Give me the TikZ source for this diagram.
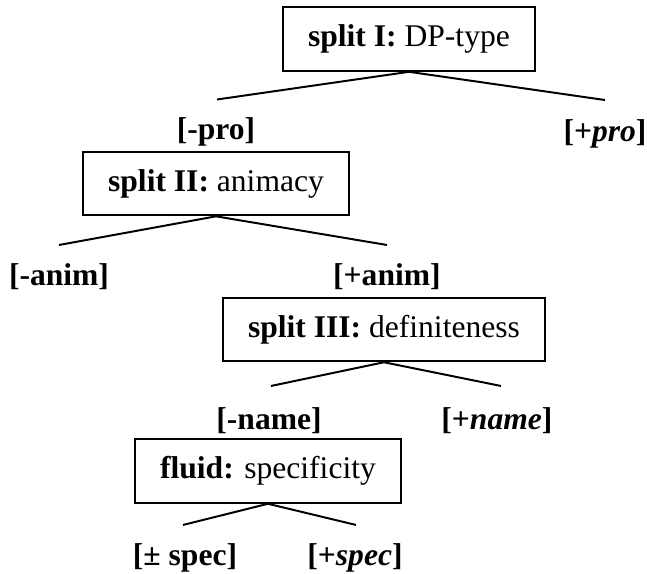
\documentclass[tikz,border=0pt]{standalone}
\usepackage{fontspec}
\setmainfont{Liberation Serif}

\begin{document}
\begin{tikzpicture}[every node/.style={font=\fontsize{12}{14}\selectfont},
        splitbox/.style={draw, line width=0.75pt, minimum height=0.85cm, inner xsep=9.5pt},
        feat/.style={font=\fontsize{12}{14}\selectfont\bfseries, inner sep=0pt},
        branch/.style={line width=0.75pt}]
        \useasboundingbox (0,0) rectangle (8.641,-7.666);

        % split boxes
        \node[splitbox] (DPT) at (5.462,-0.521) {\textbf{split I:} DP-type};
        \node[splitbox] (ANIM) at (2.885,-2.451) {\textbf{split II:} animacy};
        \node[splitbox] (DEF) at (5.128,-4.400) {\textbf{split III:} definiteness};
        \node[splitbox] (SPEC) at (3.579,-6.290) {\textbf{fluid:} specificity};

        % branch ends
        \coordinate (DPTl) at (2.898,-1.329);
        \coordinate (DPTr) at (8.080,-1.336);
        \coordinate (ANIMl) at (0.788,-3.272);
        \coordinate (ANIMr) at (5.168,-3.272);
        \coordinate (DEFl) at (3.619,-5.155);
        \coordinate (DEFr) at (6.691,-5.155);
        \coordinate (SPECl) at (2.444,-7.011);
        \coordinate (SPECr) at (4.754,-7.011);

        % features
        \node[feat] (mpro) at (2.885,-1.763) {[-pro]};
        \node[feat] (ppro) at (8.080,-1.790) {[+\textit{pro}]};
        \node[feat] (manim) at (0.788,-3.699) {[-anim]};
        \node[feat] (panim) at (5.168,-3.699) {[+anim]};
        \node[feat] (mname) at (3.593,-5.622) {[-name]};
        \node[feat] (pname) at (6.637,-5.622) {[+\textit{name}]};
        \node[feat] (pmspec) at (2.471,-7.452) {[± spec]};
        \node[feat] (pspec) at (4.741,-7.452) {[+\textit{spec}]};

        % branches
        \draw[branch] (DPTl) -- (DPT.south) -- (DPTr);
        \draw[branch] (ANIMl) -- (ANIM.south) -- (ANIMr);
        \draw[branch] (DEFl) -- (DEF.south) -- (DEFr);
        \draw[branch] (SPECl) -- (SPEC.south) -- (SPECr);
    \end{tikzpicture}
\end{document}
